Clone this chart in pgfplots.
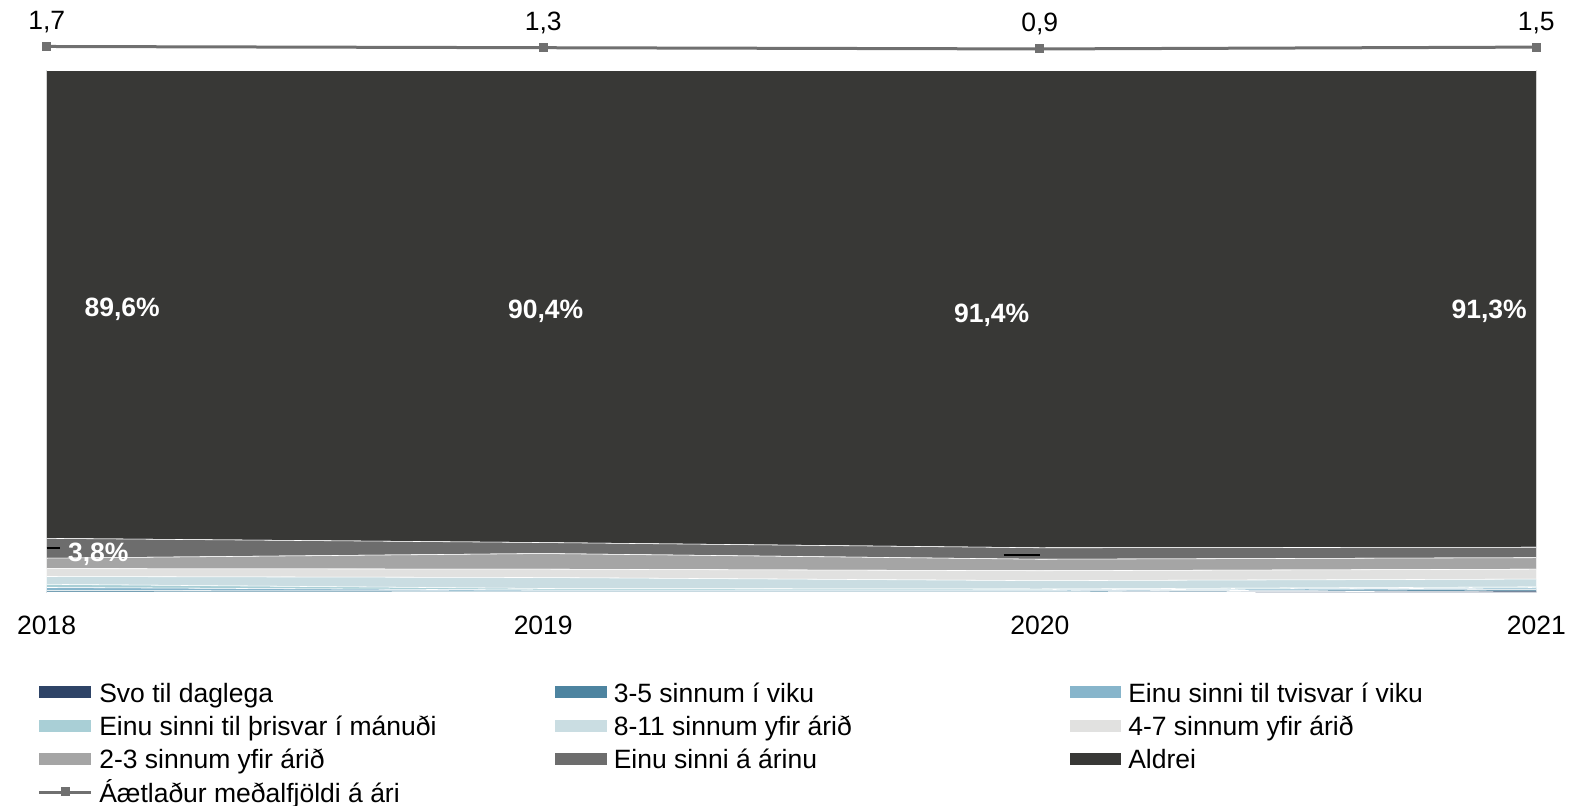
\documentclass[border=0pt]{standalone}
\usepackage{pgfplots}
\pgfplotsset{compat=1.18}
\usepackage{fontspec}
\setmainfont{Liberation Sans}
\definecolor{c1}{HTML}{2E4467}
\definecolor{c2}{HTML}{4D84A0}
\definecolor{c3}{HTML}{87B5CB}
\definecolor{c4}{HTML}{A9CFD6}
\definecolor{c5}{HTML}{CADDE2}
\definecolor{c6}{HTML}{E1E1E0}
\definecolor{c7}{HTML}{A5A5A5}
\definecolor{c8}{HTML}{6D6D6D}
\definecolor{c9}{HTML}{383836}
\definecolor{lg}{HTML}{707070}
\newcommand\fs{\fontsize{13.25}{15.9}\selectfont}
\newcommand\legtxt[1]{\makebox[228pt][l]{\vrule height 11.13pt depth 4.77pt width 0pt #1}}
\pgfplotsset{
 arealeg/.style={legend image code/.code={\fill[##1,draw=none] (0pt,-2.85pt) rectangle (25.75pt,3.0pt);}},
 sarea/.style={fill=#1, draw=white, line width=0.28pt, arealeg},
 linleg/.style={legend image code/.code={\draw[##1,mark=none] (0pt,0.07pt)--(25.75pt,0.07pt);
  \path[##1] plot[only marks] coordinates {(12.9pt,0.8pt)};}},
}
\begin{document}
\begin{tikzpicture}
\begin{axis}[name=main, scale only axis, width=744.8pt, height=261.1pt,
 xmin=0, xmax=3, ymin=0, ymax=100, enlargelimits=false,
 stack plots=y, axis line style={draw=none}, ytick=\empty,
 xtick={0,1,2,3}, xticklabels={2018,2019,2020,2021},
 major tick length=0pt, tick style={draw=none},
 xticklabel style={font=\fs, anchor=base, yshift=-21.1pt},
 legend columns=3,
 legend style={at={(-0.00598,-0.1669)}, anchor=north west, draw=none, fill=none,
   inner sep=0pt, outer sep=0pt, font=\fs, row sep=4.05pt, nodes={inner sep=0pt},
   /tikz/every odd column/.append style={column sep=3.5pt}},
 legend cell align=left,
]
\addplot[sarea=c1] coordinates {(0,0.1) (1,0.1) (2,0.1) (3,0.3)} \closedcycle;
\addlegendentry{\legtxt{Svo til daglega}}
\addplot[sarea=c2] coordinates {(0,0.3) (1,0.2) (2,0.2) (3,0.3)} \closedcycle;
\addlegendentry{\legtxt{3-5 sinnum í viku}}
\addplot[sarea=c3] coordinates {(0,0.6) (1,0.2) (2,0.2) (3,0.3)} \closedcycle;
\addlegendentry{\legtxt{Einu sinni til tvisvar í viku}}
\addplot[sarea=c4] coordinates {(0,0.6) (1,0.3) (2,0.2) (3,0.2)} \closedcycle;
\addlegendentry{\legtxt{Einu sinni til þrisvar í mánuði}}
\addplot[sarea=c5] coordinates {(0,1.5) (1,2.1) (2,1.6) (3,1.5)} \closedcycle;
\addlegendentry{\legtxt{8-11 sinnum yfir árið}}
\addplot[sarea=c6] coordinates {(0,1.5) (1,1.6) (2,1.9) (3,1.9)} \closedcycle;
\addlegendentry{\legtxt{4-7 sinnum yfir árið}}
\addplot[sarea=c7] coordinates {(0,2.0) (1,3.0) (2,2.2) (3,2.2)} \closedcycle;
\addlegendentry{\legtxt{2-3 sinnum yfir árið}}
\addplot[sarea=c8] coordinates {(0,3.8) (1,2.1) (2,2.2) (3,2.0)} \closedcycle;
\addlegendentry{\legtxt{Einu sinni á árinu}}
\addplot[sarea=c9] coordinates {(0,89.6) (1,90.4) (2,91.4) (3,91.3)} \closedcycle;
\addlegendentry{\legtxt{Aldrei}}
\addlegendimage{color=lg, line width=1.5pt, mark=square*, mark size=1.5pt, linleg}
\addlegendentry{\legtxt{Áætlaður meðalfjöldi á ári}}
\end{axis}
\begin{axis}[at={(main.south west)}, anchor=south west, scale only axis,
 width=744.8pt, height=261.1pt, xmin=0, xmax=3, ymin=0, ymax=100, hide axis, clip=false]
\addplot[only marks, mark=none, nodes near coords, point meta=explicit symbolic,
 every node near coord/.append style={font=\fs\bfseries, text=white, anchor=center}]
 table[meta=l] {
x y l
0.152 54.25 89,6\%
1.005 53.86 90,4\%
1.903 53.1 91,4\%
2.905 53.86 91,3\%
0.104 7.4 3,8\%
};
\addplot[black, line width=1pt] coordinates {(0.0,8.6) (0.027,8.6)};
\addplot[black, line width=1pt] coordinates {(1.927,7.3) (2.0,7.3)};
\end{axis}
\begin{axis}[at={(main.south west)}, anchor=south west, scale only axis,
 width=744.8pt, height=261.1pt, xmin=0, xmax=3, ymin=-174.49, ymax=-6.042, hide axis, clip=false]
\addplot[lg, line width=1.5pt, mark=square*, mark size=1.5pt, mark options={solid},
 nodes near coords, point meta=explicit symbolic,
 every node near coord/.append style={font=\fs, text=black, anchor=base, yshift=8.5pt}]
 table[meta=l] {
x y l
0 1.7 1,7
1 1.3 1,3
2 0.9 0,9
3 1.5 1,5
};
\end{axis}
\path ([shift={(-23.35pt,-106.65pt)}]main.south west) rectangle ([shift={(769.15pt,296.35pt)}]main.south west);
\end{tikzpicture}
\end{document}
